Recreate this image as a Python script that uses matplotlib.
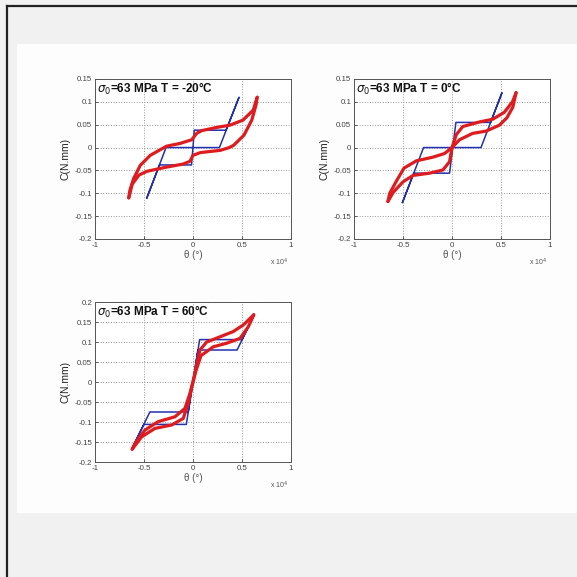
import matplotlib
matplotlib.use("Agg")
import matplotlib.pyplot as plt
from matplotlib.patches import Rectangle
from matplotlib.lines import Line2D
from matplotlib.ticker import FixedLocator, FixedFormatter

plt.rcParams['font.family'] = ['Liberation Sans', 'DejaVu Sans']

# theta in units of 1e4 degrees, C in N.mm
# --- T = -20 C ---
blue1_x = [-0.47, -0.275, 0.0, 0.013, 0.337, 0.47, 0.27, 0.0, -0.015, -0.342, -0.47]
blue1_y = [-0.11, 0.0, 0.0, 0.038, 0.038, 0.11, 0.0, 0.0, -0.038, -0.038, -0.11]
redup1_x = [-0.655, -0.643, -0.606, -0.538, -0.436, -0.37, -0.27, -0.133, -0.013, 0.037, 0.088, 0.24, 0.377, 0.51, 0.615, 0.655]
redup1_y = [-0.11, -0.093, -0.068, -0.039, -0.017, -0.009, 0.003, 0.009, 0.017, 0.031, 0.037, 0.044, 0.049, 0.06, 0.082, 0.11]
redlo1_x = [-0.655, -0.62, -0.55, -0.47, -0.3, -0.1, -0.03, 0.0, 0.075, 0.28, 0.37, 0.415, 0.52, 0.6, 0.643, 0.655]
redlo1_y = [-0.11, -0.08, -0.06, -0.052, -0.044, -0.036, -0.03, -0.017, -0.011, -0.006, 0.0, 0.005, 0.027, 0.06, 0.093, 0.11]

# --- T = 0 C ---
blue2_x = [-0.505, -0.29, 0.008, 0.04, 0.394, 0.51, 0.296, 0.008, -0.025, -0.39, -0.505]
blue2_y = [-0.12, 0.0, 0.0, 0.055, 0.055, 0.12, 0.0, 0.0, -0.056, -0.056, -0.12]
redup2_x = [-0.654, -0.635, -0.569, -0.49, -0.363, -0.195, -0.076, 0.0, 0.043, 0.11, 0.28, 0.416, 0.533, 0.617, 0.654]
redup2_y = [-0.118, -0.1, -0.074, -0.045, -0.029, -0.021, -0.013, 0.0, 0.028, 0.046, 0.056, 0.062, 0.077, 0.1, 0.12]
redlo2_x = [-0.654, -0.6, -0.5, -0.398, -0.228, -0.093, -0.025, 0.0, 0.076, 0.21, 0.348, 0.484, 0.56, 0.62, 0.654]
redlo2_y = [-0.118, -0.098, -0.075, -0.061, -0.056, -0.049, -0.031, 0.0, 0.017, 0.031, 0.036, 0.049, 0.065, 0.088, 0.12]

# --- T = 60 C ---
blue3_x = [-0.62, -0.44, -0.048, 0.068, 0.5, 0.62, 0.45, 0.05, -0.068, -0.5, -0.62]
blue3_y = [-0.165, -0.075, -0.075, 0.106, 0.106, 0.165, 0.08, 0.08, -0.106, -0.106, -0.165]
redup3_x = [-0.62, -0.59, -0.49, -0.354, -0.184, -0.082, -0.03, 0.0, 0.04, 0.071, 0.14, 0.276, 0.41, 0.513, 0.62]
redup3_y = [-0.168, -0.153, -0.12, -0.099, -0.087, -0.066, -0.028, 0.0, 0.045, 0.08, 0.1, 0.113, 0.126, 0.1425, 0.168]
redlo3_x = [-0.62, -0.524, -0.388, -0.218, -0.099, -0.048, -0.01, 0.03, 0.082, 0.207, 0.344, 0.48, 0.564, 0.62]
redlo3_y = [-0.168, -0.137, -0.116, -0.1075, -0.091, -0.053, -0.01, 0.028, 0.066, 0.088, 0.097, 0.109, 0.138, 0.168]

titles = [r'$\sigma_0$=63 MPa T = -20°C', r'$\sigma_0$=63 MPa T = 0°C', r'$\sigma_0$=63 MPa T = 60°C']
xticks = [-1, -0.5, 0, 0.5, 1]
xticklabels = ['-1', '-0.5', '0', '0.5', '1']
yticks_a = [-0.2, -0.15, -0.1, -0.05, 0, 0.05, 0.1, 0.15]
yticklabels_a = ['-0.2', '-0.15', '-0.1', '-0.05', '0', '0.05', '0.1', '0.15']
yticks_b = [-0.2, -0.15, -0.1, -0.05, 0, 0.05, 0.1, 0.15, 0.2]
yticklabels_b = ['-0.2', '-0.15', '-0.1', '-0.05', '0', '0.05', '0.1', '0.15', '0.2']

fig = plt.figure(figsize=(5.77, 5.77), dpi=100)
fig.patch.set_facecolor('#f1f1f1')

# white panel and window border
fig.add_artist(Rectangle((0.0286, 0.111), 1.0, 0.8127, transform=fig.transFigure,
                         facecolor='#fdfdfd', edgecolor='none', zorder=0))
fig.add_artist(Line2D([0.0125, 1.0], [0.9893, 0.9893], transform=fig.transFigure, color='#222222', lw=1.6))
fig.add_artist(Line2D([0.0125, 0.0125], [0.0, 0.9893], transform=fig.transFigure, color='#222222', lw=1.6))

w, h = 0.3397, 0.2773
positions = [[0.1646, 0.5858, w, h], [0.6135, 0.5858, w, h], [0.1646, 0.1993, w, h]]
blues = [(blue1_x, blue1_y), (blue2_x, blue2_y), (blue3_x, blue3_y)]
reds = [((redup1_x, redup1_y), (redlo1_x, redlo1_y)),
        ((redup2_x, redup2_y), (redlo2_x, redlo2_y)),
        ((redup3_x, redup3_y), (redlo3_x, redlo3_y))]
ylims = [(-0.2, 0.15), (-0.2, 0.15), (-0.2, 0.2)]
yts = [(yticks_a, yticklabels_a), (yticks_a, yticklabels_a), (yticks_b, yticklabels_b)]

for i in range(3):
    ax = fig.add_axes(positions[i])
    ax.set_facecolor('white')
    bx, by = blues[i]
    ax.plot(bx, by, color='#2330b0', lw=1.1, zorder=3)
    for rx, ry in reds[i]:
        ax.plot(rx, ry, color='#e01b1e', lw=2.3, solid_capstyle='round', solid_joinstyle='round', zorder=4)
    ax.set_xlim(-1, 1)
    ax.set_ylim(*ylims[i])
    ax.xaxis.set_major_locator(FixedLocator(xticks))
    ax.xaxis.set_major_formatter(FixedFormatter(xticklabels))
    ax.yaxis.set_major_locator(FixedLocator(yts[i][0]))
    ax.yaxis.set_major_formatter(FixedFormatter(yts[i][1]))
    ax.tick_params(direction='in', length=2.5, width=0.6, labelsize=5.7, colors='#444444', pad=2)
    ax.grid(True, linestyle=':', color='#9a9a9a', lw=0.7)
    for s in ax.spines.values():
        s.set_color('#555555')
        s.set_linewidth(0.7)
    ax.set_ylabel('C(N.mm)', fontsize=7.5, color='#222222', labelpad=3)
    ax.set_xlabel('θ (°)', fontsize=7, color='#555555', labelpad=1)
    ax.text(0.01, 0.99, titles[i], transform=ax.transAxes, ha='left', va='top',
            fontsize=8.5, fontweight='bold', color='#111111')
    ax.text(0.94, -0.145, r'x 10$^4$', transform=ax.transAxes, ha='center', va='center',
            fontsize=5, color='#555555')

fig.savefig('out.png', dpi=100, facecolor=fig.get_facecolor())
